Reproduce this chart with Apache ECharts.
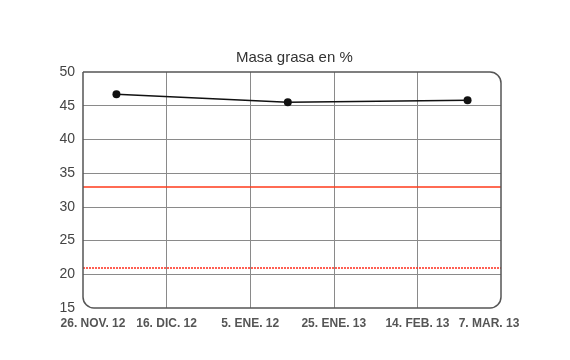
<!DOCTYPE html>
<html>
<head>
<meta charset="utf-8">
<script src="https://cdn.jsdelivr.net/npm/echarts@6/dist/echarts.min.js"></script>
<style>html,body{margin:0;padding:0;background:#fff}#c{width:570px;height:360px}</style>
</head>
<body>
<div id="c"></div>
<script>
// Days counted from 26. NOV. 12 (axis start)
var tickLabels = ['26. NOV. 12', '16. DIC. 12', '5. ENE. 12', '25. ENE. 13', '14. FEB. 13', '7. MAR. 13'];
var measureDays = [8, 49, 92];
var masaGrasa = [46.7, 45.5, 45.8];
var refSolid = 33;
var refDotted = 21;

var chart = echarts.init(document.getElementById('c'), null, {renderer: 'canvas'});
var gl = 83, gt = 72, gw = 418, gh = 236, rr = 11;
var gr = gl + gw, gb = gt + gh;
var frameStyle = {fill: 'none', stroke: '#555', lineWidth: 1.5};
function seg(x1, y1, x2, y2) {
  return {type: 'line', z: 100, silent: true, shape: {x1: x1, y1: y1, x2: x2, y2: y2}, style: frameStyle};
}
function corner(cx, cy, a0, a1) {
  return {type: 'arc', z: 100, silent: true, shape: {cx: cx, cy: cy, r: rr, startAngle: a0, endAngle: a1, clockwise: true}, style: frameStyle};
}
var P = Math.PI;
var frame = [
  seg(gl, gt, gr - rr, gt),
  corner(gr - rr, gt + rr, -P / 2, 0),
  seg(gr, gt + rr, gr, gb - rr),
  corner(gr - rr, gb - rr, 0, P / 2),
  seg(gr - rr, gb, gl + rr, gb),
  corner(gl + rr, gb - rr, P / 2, P),
  seg(gl, gb - rr, gl, gt)
];
chart.setOption({
  backgroundColor: '#fff',
  animation: false,
  title: {
    text: 'Masa grasa en %', left: 231, top: 45,
    textStyle: {fontFamily: 'Liberation Sans, Arial', fontSize: 15, fontWeight: 'normal', color: '#333'}
  },
  grid: {left: gl, top: gt, width: gw, height: gh},
  xAxis: {
    type: 'value', min: 0, max: 100, interval: 20,
    axisLine: {show: false}, axisTick: {show: false},
    splitLine: {show: true, showMinLine: false, showMaxLine: false, lineStyle: {color: '#8a8a8a', width: 1}},
    axisLabel: {
      margin: 10,
      fontFamily: 'Liberation Sans, Arial', fontSize: 12, fontWeight: 'bold', color: '#555',
      formatter: function (v) {
        var i = Math.round(v / 20);
        if (i === 0) return '{f|' + tickLabels[i] + '}';
        if (i === tickLabels.length - 1) return '{l|' + tickLabels[i] + '}';
        return tickLabels[i];
      },
      rich: {
        f: {fontFamily: 'Liberation Sans, Arial', fontSize: 12, fontWeight: 'bold', color: '#555', padding: [0, 0, 0, 20]},
        l: {fontFamily: 'Liberation Sans, Arial', fontSize: 12, fontWeight: 'bold', color: '#555', padding: [0, 24, 0, 0]}
      }
    }
  },
  yAxis: {
    type: 'value', min: 15, max: 50, interval: 5,
    axisLine: {show: false}, axisTick: {show: false},
    splitLine: {show: true, showMinLine: false, showMaxLine: false, lineStyle: {color: '#8a8a8a', width: 1}},
    axisLabel: {margin: 8, fontFamily: 'Liberation Sans, Arial', fontSize: 14, color: '#444'}
  },
  graphic: frame,
  series: [{
    type: 'line',
    data: measureDays.map(function (d, i) { return [d, masaGrasa[i]]; }),
    symbol: 'circle', symbolSize: 8,
    lineStyle: {color: '#111', width: 1.5},
    itemStyle: {color: '#111'},
    z: 10,
    markLine: {
      silent: true, symbol: 'none', label: {show: false},
      data: [
        {yAxis: refSolid, lineStyle: {color: '#ff3a1a', width: 1.5, type: 'solid'}},
        {yAxis: refDotted, lineStyle: {color: '#ff2a1a', width: 1.5, type: [2, 1]}}
      ]
    }
  }]
});
</script>
</body>
</html>
